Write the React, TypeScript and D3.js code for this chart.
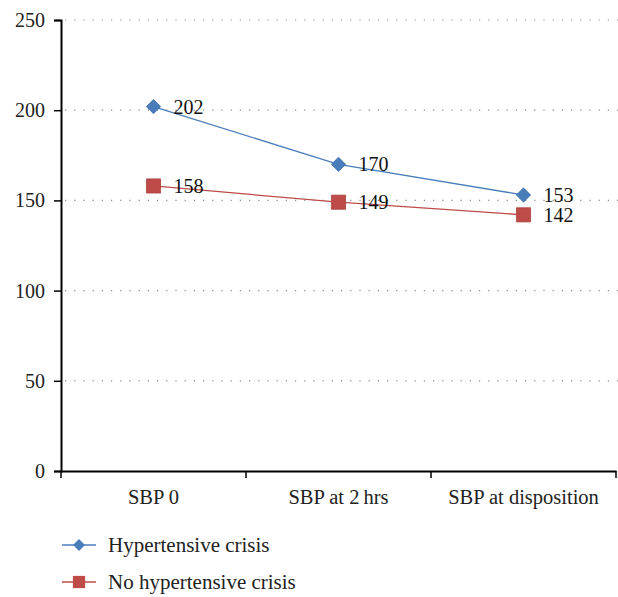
import * as d3 from 'd3';
import React, { ReactElement, useEffect, useRef } from 'react';

const categories = ['SBP 0', 'SBP at 2\u2009hrs', 'SBP at disposition'];
const crisisValues = [202, 170, 153];
const noCrisisValues = [158, 149, 142];
const yTicks = [0, 50, 100, 150, 200, 250];
const seriesNames = ['Hypertensive crisis', 'No hypertensive crisis'];

const WIDTH = 618;
const HEIGHT = 597;
const FONT = "'Liberation Serif', 'DejaVu Serif', serif";
const BLUE = '#4a7ebb';
const RED = '#be4b48';

const App = (): ReactElement => {
  const ref = useRef<SVGSVGElement>(null);

  useEffect(() => {
    const svg = d3.select(ref.current);
    svg.selectAll('*').remove();

    const left = 61;
    const right = 616;
    const top = 20;
    const bottom = 471;

    const x = d3.scaleBand().domain(categories).range([left, right]);
    const y = d3.scaleLinear().domain([0, 250]).range([bottom, top]);

    // dotted grid
    svg
      .append('g')
      .selectAll('line')
      .data(yTicks.filter((t) => t > 0))
      .enter()
      .append('line')
      .attr('x1', left + 4)
      .attr('x2', WIDTH)
      .attr('y1', (d) => y(d))
      .attr('y2', (d) => y(d))
      .attr('stroke', '#888')
      .attr('stroke-width', 1.2)
      .attr('stroke-dasharray', '1.2,8');

    const yAxis = svg
      .append('g')
      .attr('transform', `translate(${left},0)`)
      .call(d3.axisLeft(y).tickValues(yTicks).tickSize(7).tickPadding(9));
    yAxis.attr('font-family', null);
    yAxis.select('.domain').attr('stroke', '#000').attr('stroke-width', 2);
    yAxis.selectAll('.tick line').attr('stroke', '#000').attr('stroke-width', 1.5);
    yAxis
      .selectAll('text')
      .style('font-family', FONT)
      .style('font-size', '20px')
      .attr('fill', '#222');

    const xAxis = svg
      .append('g')
      .attr('transform', `translate(0,${bottom})`)
      .call(d3.axisBottom(x).tickSize(0).tickPadding(18).tickSizeOuter(0));
    xAxis.attr('font-family', null);
    xAxis.select('.domain').attr('stroke', '#000').attr('stroke-width', 2);
    xAxis
      .selectAll('text')
      .style('font-family', FONT)
      .style('font-size', '20.5px')
      .attr('fill', '#222');
    // category boundary ticks
    xAxis
      .selectAll('.sep')
      .data([left, ...categories.map((c) => (x(c) as number) + x.bandwidth())])
      .enter()
      .append('line')
      .attr('x1', (d) => d)
      .attr('x2', (d) => d)
      .attr('y1', 0)
      .attr('y2', 7)
      .attr('stroke', '#000')
      .attr('stroke-width', 1.5);

    const cx = (i: number) => (x(categories[i]) as number) + x.bandwidth() / 2;
    const line = d3
      .line<number>()
      .x((_, i) => cx(i))
      .y((d) => y(d));

    const diamond = d3.symbol().type(d3.symbolDiamond2).size(130);
    const square = d3.symbol().type(d3.symbolSquare).size(200);

    const series = [
      { values: crisisValues, color: BLUE, shape: diamond },
      { values: noCrisisValues, color: RED, shape: square },
    ];

    series.forEach((s) => {
      svg
        .append('path')
        .attr('d', line(s.values))
        .attr('fill', 'none')
        .attr('stroke', s.color)
        .attr('stroke-width', 1.3);
      svg
        .append('g')
        .selectAll('path')
        .data(s.values)
        .enter()
        .append('path')
        .attr('d', s.shape)
        .attr('transform', (d, i) => `translate(${cx(i)},${y(d)})`)
        .attr('fill', s.color)
        .attr('stroke', s.color === BLUE ? '#3d6da8' : '#a94240')
        .attr('stroke-width', 0.8);
      svg
        .append('g')
        .selectAll('text')
        .data(s.values)
        .enter()
        .append('text')
        .attr('x', (_, i) => cx(i) + 20)
        .attr('y', (d) => y(d) + 7)
        .style('font-family', FONT)
        .style('font-size', '20px')
        .attr('fill', '#111')
        .text((d) => d);
    });

    // legend
    const legend = svg.append('g');
    [BLUE, RED].forEach((color, i) => {
      const ly = 545 + i * 37;
      const g = legend.append('g').attr('transform', `translate(62,${ly})`);
      g.append('line')
        .attr('x1', 0)
        .attr('x2', 34)
        .attr('y1', 0)
        .attr('y2', 0)
        .attr('stroke', color)
        .attr('stroke-width', 1.5);
      g.append('path')
        .attr('d', i === 0 ? d3.symbol().type(d3.symbolDiamond2).size(90)() : d3.symbol().type(d3.symbolSquare).size(150)())
        .attr('transform', 'translate(17,0)')
        .attr('fill', color);
      g.append('text')
        .attr('x', 46)
        .attr('y', 6.5)
        .style('font-family', FONT)
        .style('font-size', '21px')
        .attr('fill', '#222')
        .text(seriesNames[i]);
    });
  }, []);

  return (
    <svg
      ref={ref}
      width={WIDTH}
      height={HEIGHT}
      style={{ position: 'absolute', left: 0, top: 0, background: '#fff' }}
    />
  );
};

export default App;
